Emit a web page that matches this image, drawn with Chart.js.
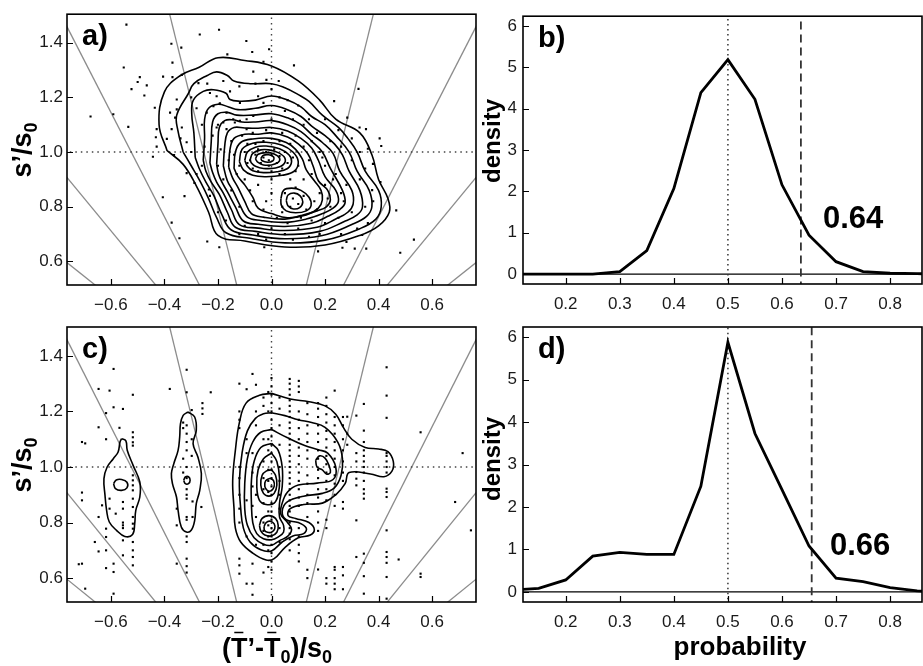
<!DOCTYPE html>
<html>
<head>
<meta charset="utf-8">
<script src="https://cdn.jsdelivr.net/npm/chart.js@4.4.1/dist/chart.umd.min.js"></script>
<style>
  html, body { margin: 0; padding: 0; background: #fff; }
  #wrap { position: relative; width: 923px; height: 666px; overflow: hidden; }
  canvas { position: absolute; }
  #cA { left: 0; top: 0; }
  #cB { left: 480px; top: 0; }
  #cC { left: 0; top: 310px; }
  #cD { left: 480px; top: 310px; }
</style>
</head>
<body>
<div id="wrap">
  <canvas id="cA" width="480" height="330"></canvas>
  <canvas id="cB" width="443" height="330"></canvas>
  <canvas id="cC" width="480" height="356"></canvas>
  <canvas id="cD" width="443" height="356"></canvas>
</div>
<script>
// ---------- axes ----------
const xTicksRatio = [-0.6, -0.4, -0.2, 0, 0.2, 0.4, 0.6];
const yTicksRatio = [0.6, 0.8, 1.0, 1.2, 1.4];
const xTicksProb = [0.2, 0.3, 0.4, 0.5, 0.6, 0.7, 0.8];
const yTicksDens = [0, 1, 2, 3, 4, 5, 6];

// slopes of the constant-probability rays (normal quantiles of 0.1 .. 0.9)
const raySlopes = [-1.282, -0.842, -0.524, -0.253, 0.253, 0.524, 0.842, 1.282];

// ---------- density curves (panels b, d) ----------
const probGrid = [0.10, 0.15, 0.20, 0.25, 0.30, 0.35, 0.40, 0.45, 0.50, 0.55, 0.60, 0.65, 0.70, 0.75, 0.80, 0.85, 0.90];
const densityB = [0, 0, 0, 0, 0.06, 0.57, 2.07, 4.39, 5.19, 4.23, 2.16, 0.94, 0.30, 0.06, 0.02, 0.01, 0];
const densityD = [0.04, 0.08, 0.28, 0.84, 0.93, 0.88, 0.88, 2.49, 5.88, 3.73, 2.41, 1.08, 0.32, 0.24, 0.10, 0.02, 0];
const cutB = 0.635;
const cutD = 0.655;

// ---------- panel a: contours ----------
const aLevel1 = [[-0.39,1.005],[-0.42,1.10],[-0.40,1.22],[-0.34,1.28],[-0.27,1.31],[-0.20,1.345],[-0.10,1.335],[0,1.315],[0.10,1.26],[0.18,1.19],[0.24,1.12],[0.33,1.07],[0.375,0.99],[0.40,0.90],[0.435,0.83],[0.44,0.78],[0.40,0.73],[0.33,0.695],[0.20,0.66],[0.05,0.653],[-0.10,0.675],[-0.20,0.695],[-0.235,0.78],[-0.28,0.875],[-0.33,0.955]];
const aLevel2 = [[-0.33,1.0],[-0.35,1.08],[-0.354,1.135],[-0.31,1.215],[-0.29,1.25],[-0.24,1.28],[-0.205,1.293],[-0.165,1.28],[-0.14,1.26],[-0.08,1.25],[0,1.25],[0.05,1.235],[0.10,1.21],[0.14,1.185],[0.19,1.135],[0.25,1.09],[0.285,1.05],[0.32,1.0],[0.35,0.93],[0.40,0.86],[0.41,0.80],[0.39,0.755],[0.33,0.72],[0.20,0.678],[0.05,0.668],[-0.08,0.685],[-0.17,0.705],[-0.205,0.76],[-0.235,0.83],[-0.265,0.89],[-0.30,0.95]];
const aLevel3 = [[-0.285,0.98],[-0.29,1.07],[-0.298,1.14],[-0.292,1.19],[-0.255,1.222],[-0.217,1.228],[-0.17,1.215],[-0.155,1.192],[-0.118,1.186],[-0.06,1.19],[0,1.205],[0.06,1.19],[0.11,1.165],[0.15,1.13],[0.20,1.10],[0.24,1.06],[0.29,1.0],[0.32,0.93],[0.365,0.86],[0.375,0.80],[0.355,0.765],[0.30,0.735],[0.19,0.695],[0.05,0.683],[-0.07,0.697],[-0.15,0.715],[-0.185,0.77],[-0.215,0.84],[-0.245,0.89],[-0.27,0.94]];
const aLevel4 = [[-0.255,0.97],[-0.25,1.05],[-0.25,1.12],[-0.235,1.16],[-0.20,1.175],[-0.16,1.165],[-0.125,1.155],[-0.06,1.16],[0,1.17],[0.06,1.155],[0.11,1.13],[0.15,1.095],[0.20,1.06],[0.235,1.03],[0.265,0.99],[0.29,0.93],[0.33,0.86],[0.34,0.80],[0.32,0.77],[0.27,0.745],[0.18,0.71],[0.05,0.698],[-0.06,0.71],[-0.135,0.725],[-0.165,0.78],[-0.195,0.845],[-0.225,0.89],[-0.245,0.93]];
const aLevel5 = [[-0.23,0.96],[-0.225,1.04],[-0.22,1.11],[-0.20,1.14],[-0.165,1.145],[-0.13,1.135],[-0.07,1.135],[0,1.14],[0.06,1.125],[0.11,1.10],[0.15,1.065],[0.19,1.035],[0.23,0.995],[0.255,0.93],[0.30,0.86],[0.305,0.81],[0.285,0.78],[0.24,0.755],[0.17,0.725],[0.05,0.713],[-0.05,0.722],[-0.12,0.735],[-0.15,0.79],[-0.18,0.85],[-0.205,0.89],[-0.22,0.925]];
const aLevel6 = [[-0.205,0.955],[-0.20,1.03],[-0.195,1.09],[-0.175,1.115],[-0.145,1.118],[-0.11,1.11],[-0.06,1.11],[0,1.115],[0.06,1.10],[0.11,1.075],[0.15,1.04],[0.19,1.0],[0.22,0.94],[0.265,0.86],[0.275,0.815],[0.255,0.79],[0.21,0.765],[0.15,0.74],[0.05,0.728],[-0.05,0.736],[-0.105,0.748],[-0.135,0.80],[-0.165,0.855],[-0.185,0.89],[-0.198,0.92]];
const aLevel7 = [[-0.18,0.95],[-0.175,1.02],[-0.165,1.07],[-0.14,1.09],[-0.10,1.088],[-0.05,1.087],[0,1.09],[0.06,1.077],[0.11,1.05],[0.15,1.015],[0.175,0.97],[0.20,0.91],[0.24,0.86],[0.25,0.82],[0.23,0.795],[0.19,0.775],[0.13,0.755],[0.05,0.743],[-0.04,0.75],[-0.09,0.762],[-0.12,0.81],[-0.145,0.86],[-0.165,0.895]];
const aLevel8 = [[-0.16,0.945],[-0.155,1.01],[-0.14,1.05],[-0.10,1.065],[-0.05,1.065],[0,1.07],[0.06,1.055],[0.10,1.03],[0.135,0.995],[0.155,0.95],[0.175,0.895],[0.21,0.86],[0.22,0.825],[0.205,0.80],[0.17,0.785],[0.11,0.768],[0.05,0.755],[-0.03,0.762],[-0.075,0.775],[-0.10,0.82],[-0.125,0.87],[-0.145,0.905]];
const aLevel9 = [[-0.14,0.94],[-0.135,1.0],[-0.115,1.035],[-0.07,1.048],[0,1.05],[0.055,1.035],[0.09,1.01],[0.115,0.975],[0.13,0.935],[0.16,0.895],[0.185,0.86],[0.19,0.825],[0.175,0.795],[0.13,0.77],[0.06,0.76],[0.0,0.775],[-0.05,0.795],[-0.07,0.835],[-0.10,0.88],[-0.125,0.91]];
const aPeak1 = [[-0.12,0.965],[-0.11,1.01],[-0.07,1.032],[-0.02,1.036],[0.04,1.025],[0.08,1.0],[0.10,0.965],[0.085,0.93],[0.04,0.915],[-0.02,0.91],[-0.07,0.915],[-0.105,0.935]];
const aPeak2 = [[-0.10,0.97],[-0.09,1.0],[-0.06,1.018],[-0.02,1.022],[0.03,1.012],[0.065,0.99],[0.075,0.965],[0.06,0.94],[0.02,0.928],[-0.03,0.925],[-0.07,0.932],[-0.09,0.948]];
const aPeak3 = [[-0.08,0.972],[-0.07,0.995],[-0.04,1.008],[-0.01,1.008],[0.025,0.998],[0.05,0.978],[0.045,0.955],[0.015,0.942],[-0.03,0.94],[-0.06,0.948],[-0.075,0.96]];
const aPeak4 = [[-0.06,0.975],[-0.05,0.992],[-0.02,0.998],[0.01,0.993],[0.03,0.978],[0.025,0.962],[0,0.953],[-0.03,0.953],[-0.05,0.962]];
const aPeak5 = [[-0.04,0.977],[-0.03,0.988],[-0.01,0.99],[0.008,0.982],[0.005,0.968],[-0.015,0.963],[-0.035,0.968]];
const aSecond1 = [[0.035,0.83],[0.045,0.86],[0.075,0.868],[0.11,0.86],[0.14,0.835],[0.148,0.805],[0.13,0.785],[0.09,0.778],[0.055,0.785],[0.037,0.805]];
const aSecond2 = [[0.055,0.823],[0.062,0.843],[0.085,0.85],[0.107,0.84],[0.117,0.818],[0.105,0.797],[0.082,0.792],[0.062,0.803]];

// ---------- panel a: draws ----------
const pointsA = [
  [-0.542,1.466],[-0.196,1.447],[-0.268,1.43],[-0.094,1.406],[-0.374,1.396],[-0.337,1.382],[-0.072,1.366],[-0.009,1.376],[-0.03,1.33],[-0.165,1.357],
  [-0.37,1.327],[-0.552,1.309],[-0.405,1.276],[-0.492,1.274],[-0.5,1.256],[-0.466,1.244],[-0.523,1.23],[-0.475,1.207],[-0.37,1.274],[-0.335,1.282],
  [-0.591,1.138],[-0.676,1.13],[-0.535,1.092],[-0.436,1.162],[-0.429,1.084],[-0.432,1.054],[-0.429,1.02],[-0.443,0.983],[-0.364,0.989],[-0.406,0.835],
  [-0.325,0.839],[-0.373,0.742],[-0.344,0.685],[-0.24,0.673],[-0.195,0.652],[-0.317,0.923],[-0.288,0.887],[-0.234,0.863],[-0.027,0.652],
  [0.084,1.317],[0.027,1.26],[0.325,1.231],[0.234,1.186],[0.283,1.126],[0.329,1.09],[0.353,1.084],[0.404,1.05],[0.41,1.022],[0.36,1.012],
  [0.466,0.787],[0.532,0.68],[0.481,0.632],[0.354,0.647],[0.311,0.647],[0.265,0.65],[0.174,0.637],[0.379,0.957],[0.407,0.89],[0.376,0.861],[0.339,0.697],[0.28,0.671],
  [-0.242,1.144],[-0.217,1.168],[-0.193,1.178],[-0.168,1.144],[-0.143,1.12],[-0.118,1.18],[-0.118,1.114],[-0.093,1.12],[-0.068,1.132],[-0.18,1.108],
  [-0.205,1.09],[-0.168,1.084],[-0.137,1.108],[-0.093,1.084],[-0.205,1.204],[-0.23,1.216],[-0.155,1.222],[-0.273,1.252],[-0.354,1.192],[-0.379,1.144],
  [-0.354,1.156],[-0.36,1.126],[-0.335,1.09],[-0.373,1.084],[-0.391,1.048],[-0.317,1.036],[-0.05,1.204],[-0.068,1.294],[-0.019,1.264],
  [-0.1,1.0],[-0.08,0.97],[-0.06,0.99],[-0.05,1.01],[-0.04,0.96],[-0.03,0.98],[-0.02,1.0],[-0.01,0.97],[0.0,0.99],[0.01,1.01],
  [0.02,0.96],[0.03,0.985],[0.05,1.0],[0.06,0.96],[-0.07,0.94],[-0.12,0.95],[-0.14,0.99],[0.08,0.98],[0.1,0.95],[-0.05,0.93],
  [0.0,0.93],[0.04,0.94],[-0.09,1.03],[-0.03,1.04],[0.03,1.04],[0.07,1.03],[-0.15,1.04],[0.12,1.02],[0.14,0.97],[-0.01,0.95],
  [0.05,0.85],[0.08,0.83],[0.1,0.81],[0.07,0.8],[0.12,0.84],[0.09,0.87],[0.04,0.8],[0.13,0.79],[0.16,0.82],[0.18,0.85],
  [0.2,0.88],[0.0,0.85],[-0.02,0.82],[-0.05,0.88],[-0.08,0.86],[0.0,0.9],[0.02,0.76],[0.06,0.74],[0.1,0.72],[0.15,0.75],
  [0.2,0.74],[0.25,0.76],[0.22,0.8],[0.27,0.82],[0.3,0.78],[0.28,0.88],[0.24,0.92],[0.2,0.95],[0.18,1.0],[0.22,1.04],
  [0.17,1.07],[0.12,1.1],[0.08,1.12],[0.05,1.15],[0.0,1.12],[-0.03,1.18],[0.1,1.17],[0.03,1.2],[-0.12,0.8],[-0.15,0.86],
  [-0.18,0.9],[-0.2,0.95],[-0.17,0.75],[-0.1,0.73],[-0.05,0.7],[0.0,0.72],[0.05,0.7],[0.14,0.69],[0.32,0.72],[0.35,0.8],
  [0.33,0.9],[0.3,0.97],[0.26,1.02],[0.3,1.05],[-0.25,1.02],[-0.22,1.06],[-0.28,0.92],[-0.23,0.84],[0.12,0.9],[0.15,0.92],
  [-0.11,1.06],[-0.07,1.07],[-0.02,1.08],[0.04,1.07],[0.09,1.06],[0.15,1.04],[0.19,0.98],[0.23,0.9],[0.26,0.85],[0.21,0.83],
  [0.17,0.79],[0.11,0.76],[0.04,0.78],[-0.03,0.79],[-0.07,0.82],[-0.1,0.9],[-0.13,0.92],[-0.16,0.97],[-0.19,1.01],[-0.2,1.1],
  [-0.26,1.1],[-0.28,1.16],[-0.3,1.2],[-0.24,1.25],[-0.18,1.26],[-0.12,1.24],[-0.06,1.25],[0.0,1.23],[0.06,1.19],[0.14,1.12],
  [0.2,1.12],[0.25,1.08],[0.33,1.0],[0.35,0.94],[0.38,0.82],[0.36,0.74],[0.26,0.7],[0.18,0.7],[0.08,0.68],[-0.02,0.68],
  [-0.12,0.7],[-0.2,0.78],[-0.26,0.95],[-0.3,1.0],[-0.34,1.05],[-0.09,0.96],[-0.06,1.03],[0.03,0.92],[0.07,0.9],[0.09,0.93]
];

// ---------- panel c: contours ----------
const cMain1 = [[0,1.265],[0.07,1.245],[0.14,1.235],[0.2,1.22],[0.24,1.19],[0.27,1.14],[0.3,1.1],[0.35,1.07],[0.4,1.065],[0.435,1.055],[0.455,1.02],[0.45,0.985],[0.42,0.965],[0.37,0.975],[0.29,0.98],[0.275,0.94],[0.24,0.9],[0.19,0.87],[0.12,0.865],[0.07,0.85],[0.062,0.825],[0.09,0.815],[0.14,0.8],[0.16,0.775],[0.145,0.755],[0.1,0.745],[0.05,0.71],[0.01,0.67],[-0.02,0.665],[-0.07,0.69],[-0.115,0.73],[-0.135,0.78],[-0.14,0.85],[-0.145,0.95],[-0.135,1.06],[-0.12,1.16],[-0.095,1.23],[-0.045,1.258]];
const cMain2 = [[0,1.195],[0.05,1.185],[0.1,1.17],[0.15,1.16],[0.2,1.143],[0.248,1.089],[0.265,1.03],[0.26,0.97],[0.235,0.925],[0.19,0.905],[0.12,0.895],[0.06,0.875],[0.04,0.84],[0.055,0.81],[0.1,0.8],[0.13,0.78],[0.12,0.76],[0.08,0.752],[0.04,0.73],[0.0,0.698],[-0.04,0.702],[-0.08,0.73],[-0.105,0.78],[-0.115,0.85],[-0.12,0.95],[-0.11,1.05],[-0.09,1.13],[-0.06,1.175],[-0.03,1.192]];
const cMain3 = [[0,1.135],[0.06,1.105],[0.124,1.077],[0.175,1.062],[0.21,1.05],[0.24,1.0],[0.23,0.955],[0.17,0.942],[0.1,0.935],[0.06,0.91],[0.04,0.87],[0.035,0.83],[0.06,0.8],[0.075,0.775],[0.06,0.75],[0.03,0.735],[0.0,0.718],[-0.03,0.722],[-0.065,0.745],[-0.09,0.79],[-0.1,0.85],[-0.1,0.94],[-0.09,1.03],[-0.07,1.09],[-0.04,1.125]];
const cMain4 = [[0,1.085],[0.025,1.06],[0.04,1.0],[0.04,0.93],[0.03,0.87],[0.03,0.82],[0.045,0.79],[0.045,0.765],[0.025,0.748],[0.0,0.738],[-0.03,0.742],[-0.055,0.76],[-0.07,0.8],[-0.075,0.87],[-0.075,0.95],[-0.065,1.02],[-0.04,1.07]];
const cUpper1 = [[0,1.05],[0.02,1.02],[0.03,0.96],[0.025,0.9],[0.01,0.87],[-0.02,0.865],[-0.045,0.88],[-0.055,0.93],[-0.05,0.99],[-0.03,1.03]];
const cUpper2 = [[0,0.99],[0.015,0.97],[0.02,0.935],[0.01,0.905],[-0.01,0.895],[-0.03,0.905],[-0.04,0.935],[-0.035,0.97],[-0.02,0.985]];
const cUpper3 = [[-0.005,0.96],[0.008,0.95],[0.01,0.93],[0,0.915],[-0.015,0.915],[-0.025,0.93],[-0.022,0.95]];
const cLower1 = [[-0.045,0.79],[-0.035,0.815],[-0.01,0.825],[0.015,0.815],[0.025,0.79],[0.02,0.765],[0,0.752],[-0.025,0.755],[-0.04,0.77]];
const cLower2 = [[-0.028,0.785],[-0.02,0.8],[-0.005,0.805],[0.01,0.795],[0.012,0.778],[0.0,0.765],[-0.015,0.765],[-0.026,0.772]];
const cRight1 = [[0.165,1.025],[0.18,1.04],[0.2,1.032],[0.215,1.005],[0.22,0.98],[0.205,0.975],[0.19,0.99],[0.17,1.0]];
const cLeft1 = [[-0.56,1.102],[-0.544,1.094],[-0.539,1.06],[-0.517,1.006],[-0.492,0.946],[-0.492,0.892],[-0.507,0.844],[-0.511,0.796],[-0.519,0.757],[-0.548,0.75],[-0.579,0.772],[-0.606,0.802],[-0.616,0.844],[-0.622,0.898],[-0.626,0.958],[-0.614,1.0],[-0.591,1.03],[-0.573,1.054],[-0.566,1.09]];
const cLeft2 = [[-0.59,0.94],[-0.58,0.953],[-0.56,0.955],[-0.54,0.945],[-0.54,0.925],[-0.56,0.916],[-0.583,0.922]];
const cMid1 = [[-0.312,1.198],[-0.287,1.18],[-0.281,1.132],[-0.293,1.084],[-0.275,1.036],[-0.262,0.976],[-0.268,0.916],[-0.281,0.868],[-0.287,0.808],[-0.3,0.772],[-0.318,0.766],[-0.337,0.784],[-0.349,0.844],[-0.355,0.892],[-0.37,0.94],[-0.374,0.976],[-0.365,1.012],[-0.349,1.06],[-0.343,1.108],[-0.34,1.156],[-0.33,1.186]];
const cMid2 = [[-0.328,0.952],[-0.322,0.964],[-0.31,0.965],[-0.304,0.952],[-0.31,0.94],[-0.322,0.94]];

// ---------- panel c: draws, grouped by column ----------
const columnsC = [
  [-0.72, [0.65]],
  [-0.708, [1.09, 0.908, 0.88, 0.652]],
  [-0.696, [1.085, 0.562]],
  [-0.66, [0.73]],
  [-0.646, [1.281, 1.143, 0.82, 0.696]],
  [-0.633, [0.862]],
  [-0.618, [1.194, 1.1, 0.778, 0.748, 0.7, 0.636]],
  [-0.605, [1.275, 0.886, 0.85]],
  [-0.59, [1.353, 1.215, 0.652, 0.622, 0.544]],
  [-0.582, [0.832]],
  [-0.568, [1.141]],
  [-0.555, [1.209, 0.874, 0.85, 0.8, 0.79, 0.78, 0.736, 0.682]],
  [-0.518, [1.26, 1.125, 1.107, 1.089, 1.077, 0.97, 0.952, 0.934, 0.916, 0.886, 0.856, 0.82, 0.796, 0.778, 0.73, 0.7, 0.676, 0.646]],
  [-0.38, [1.281]],
  [-0.354, [0.85, 0.79, 0.652]],
  [-0.33, [1.16, 1.14, 1.03, 0.98]],
  [-0.317, [1.35, 1.269, 1.15, 1.12, 1.09, 1.06, 1.0, 0.96, 0.92, 0.9, 0.886, 0.82, 0.81, 0.75, 0.73, 0.67, 0.643, 0.62]],
  [-0.298, [1.205, 1.1, 1.04]],
  [-0.295, [0.876, 0.82]],
  [-0.262, [0.856]],
  [-0.258, [1.23, 1.211, 1.191]],
  [-0.227, [1.269]],
  [-0.12, [1.3, 1.2, 1.17, 1.14, 1.0, 0.96, 0.9, 0.85, 0.8, 0.67, 0.646, 0.616]],
  [-0.093, [1.28, 1.1, 1.05, 0.88, 0.75, 0.58]],
  [-0.071, [1.335, 1.05, 0.98, 0.93, 0.86, 0.652, 0.58, 0.54]],
  [-0.058, [1.296, 1.2, 1.15, 0.9, 0.82, 0.72]],
  [-0.03, [1.25, 1.22, 1.1, 1.02, 0.96, 0.92, 0.87, 0.8, 0.77, 0.72, 0.62]],
  [-0.012, [1.27, 1.2, 1.1, 1.06, 0.99, 0.95, 0.91, 0.84, 0.79, 0.75, 0.7, 0.64]],
  [0.0, [1.32, 1.29, 1.26, 1.23, 1.2, 1.17, 1.14, 1.11, 1.08, 1.05, 1.02, 0.99, 0.96, 0.93, 0.9, 0.87, 0.84, 0.81, 0.78, 0.75, 0.72, 0.69, 0.66, 0.63]],
  [0.03, [1.25, 1.21, 1.15, 1.08, 1.0, 0.95, 0.9, 0.85, 0.78, 0.73]],
  [0.068, [1.317, 1.3, 1.28, 1.26, 1.24, 1.22, 1.2, 1.18, 1.16, 1.14, 1.12, 1.1, 1.08, 1.06, 1.04, 1.02, 1.0, 0.98, 0.96, 0.94, 0.92, 0.9, 0.88, 0.86, 0.84, 0.8, 0.78, 0.76, 0.74, 0.7]],
  [0.102, [1.31, 1.29, 1.27, 1.2, 1.17, 1.14, 1.1, 1.07, 1.04, 1.01, 0.98, 0.95, 0.92, 0.89, 0.86, 0.78, 0.75, 0.72, 0.69, 0.66]],
  [0.134, [1.23, 1.19, 1.15, 1.12, 1.09, 1.06, 1.03, 0.97, 0.94, 0.9, 0.87, 0.82, 0.63, 0.6]],
  [0.174, [1.23, 1.21, 1.18, 1.15, 1.12, 1.09, 1.06, 1.03, 0.99, 0.96, 0.92, 0.89, 0.84, 0.8, 0.77, 0.631]],
  [0.205, [1.25, 1.22, 1.19, 1.16, 1.13, 1.1, 1.07, 1.04, 1.01, 0.98, 0.95, 0.92, 0.88, 0.81, 0.78, 0.6, 0.58]],
  [0.236, [1.275, 1.18, 1.15, 1.12, 1.09, 1.06, 1.03, 1.0, 0.97, 0.94, 0.9, 0.86, 0.64, 0.63, 0.6, 0.58, 0.56]],
  [0.267, [1.18, 1.15, 1.1, 1.06, 1.02, 0.98, 0.95, 0.874, 0.85, 0.64, 0.61, 0.56]],
  [0.283, [1.181, 1.12, 1.08]],
  [0.317, [1.185, 1.05, 1.02, 0.982, 0.958, 0.934, 0.808, 0.676]],
  [0.345, [1.227, 1.131, 1.09, 1.06, 1.04, 1.02, 1.0, 0.98, 0.95, 0.92, 0.904, 0.886, 0.688, 0.655, 0.607, 0.544]],
  [0.43, [1.359, 1.257, 1.177, 1.05, 1.04, 1.02, 1.0, 0.98, 0.922, 0.91, 0.892, 0.772, 0.694, 0.676, 0.655, 0.604, 0.526]],
  [0.475, [0.667]],
  [0.557, [0.616, 0.604, 1.125]],
  [0.686, [0.874]],
  [0.714, [1.05]],
  [0.745, [0.772]]
];

const contoursA = [aLevel1, aLevel2, aLevel3, aLevel4, aLevel5, aLevel6, aLevel7, aLevel8, aLevel9,
                   aPeak1, aPeak2, aPeak3, aPeak4, aPeak5, aSecond1, aSecond2];
const contoursC = [cMain1, cMain2, cMain3, cMain4, cUpper1, cUpper2, cUpper3, cLower1, cLower2, cRight1,
                   cLeft1, cLeft2, cMid1, cMid2];
const pointsC = columnsC.flatMap(([x, ys]) => ys.map(y => [x, y]));

// ---------- helpers ----------
const FONT = '"Liberation Sans", Arial, Helvetica, sans-serif';
const toXY = pairs => pairs.map(([x, y]) => ({ x, y }));
const fmtSigned = v => (v < 0 ? '\u2212' : '') + Math.abs(v).toFixed(1);

function lineSet(data, color, width, dash, order, tension) {
  return {
    data, showLine: true, borderColor: color, borderWidth: width, borderDash: dash || [],
    pointRadius: 0, pointHoverRadius: 0, fill: false, tension: tension || 0, order
  };
}

function axis(min, max, values, fmt, size, horizontal, pad) {
  return {
    type: 'linear', min, max,
    grid: { display: false, drawTicks: false },
    border: { display: false },
    afterBuildTicks: s => { s.ticks = values.map(v => ({ value: v })); },
    afterFit: s => { if (horizontal) s.height = size; else s.width = size; },
    ticks: {
      color: '#1a1a1a', padding: pad, autoSkip: false, maxRotation: 0,
      font: { family: FONT, size: 17 }, callback: fmt
    }
  };
}

// draws text pieces in sequence; sub pieces are smaller and lowered
const MAIN = 'bold 27px ' + FONT, SUB = 'bold 18px ' + FONT;
function drawPieces(ctx, pieces, x0, base) {
  let x = x0;
  const bars = [];
  pieces.forEach(p => {
    ctx.font = p.sub ? SUB : MAIN;
    ctx.fillText(p.t, x, base + (p.sub ? 6 : 0));
    const w = ctx.measureText(p.t).width;
    if (p.bar) bars.push([x, w]);
    x += w;
  });
  return bars;
}
function piecesWidth(ctx, pieces) {
  return pieces.reduce((s, p) => {
    ctx.font = p.sub ? SUB : MAIN;
    return s + ctx.measureText(p.t).width;
  }, 0);
}

const ratioTitle = [{ t: 's\u2019/s' }, { t: '0', sub: true }];
const diffTitle = [{ t: '(' }, { t: 'T', bar: true }, { t: '\u2019-' }, { t: 'T', bar: true },
                   { t: '0', sub: true }, { t: ')/s' }, { t: '0', sub: true }];

// frame, inward ticks, panel letters, titles and notes
const decor = {
  id: 'decor',
  afterDraw(chart, args, o) {
    const { ctx, chartArea: a, scales } = chart;
    ctx.save();
    ctx.strokeStyle = '#000';
    ctx.lineWidth = 1.2;
    ctx.beginPath();
    scales.x.ticks.forEach(t => {
      const px = Math.round(scales.x.getPixelForValue(t.value)) + 0.5;
      ctx.moveTo(px, a.bottom); ctx.lineTo(px, a.bottom - 6);
    });
    scales.y.ticks.forEach(t => {
      const py = Math.round(scales.y.getPixelForValue(t.value)) + 0.5;
      ctx.moveTo(a.left, py); ctx.lineTo(a.left + 6, py);
    });
    ctx.stroke();
    ctx.lineWidth = 1.6;
    ctx.strokeRect(a.left, a.top, a.right - a.left, a.bottom - a.top);

    ctx.fillStyle = '#000';
    ctx.textBaseline = 'alphabetic';
    ctx.textAlign = 'left';
    ctx.font = 'bold 29px ' + FONT;
    ctx.fillText(o.letter, a.left + 15, a.top + 31);

    if (o.note) {
      ctx.font = 'bold 31px ' + FONT;
      ctx.fillText(o.note.text, o.note.x, o.note.y);
    }

    // vertical title
    ctx.save();
    ctx.translate(o.yTitle.x, o.yTitle.y);
    ctx.rotate(-Math.PI / 2);
    if (o.yTitle.kind === 'ratio') {
      const w = piecesWidth(ctx, ratioTitle);
      drawPieces(ctx, ratioTitle, -w / 2, 0);
    } else {
      ctx.font = 'bold 24px ' + FONT;
      ctx.textAlign = 'center';
      ctx.fillText('density', 0, 0);
    }
    ctx.restore();

    if (o.xTitle) {
      if (o.xTitle.kind === 'diff') {
        const w = piecesWidth(ctx, diffTitle);
        const bars = drawPieces(ctx, diffTitle, o.xTitle.x - w / 2, o.xTitle.y);
        ctx.lineWidth = 1.3;
        ctx.beginPath();
        bars.forEach(([bx, bw]) => {
          ctx.moveTo(bx + bw * 0.2, o.xTitle.y - 24.5);
          ctx.lineTo(bx + bw * 0.75, o.xTitle.y - 24.5);
        });
        ctx.stroke();
      } else {
        ctx.font = 'bold 26px ' + FONT;
        ctx.textAlign = 'center';
        ctx.fillText('probability', o.xTitle.x, o.xTitle.y);
      }
    }
    ctx.restore();
  }
};

function scatterPanel(id, contours, points, pad, xAxisH, deco) {
  const rays = raySlopes.map(k => lineSet([{ x: k * 0.3, y: 0.3 }, { x: k * 1.7, y: 1.7 }], '#8c8c8c', 1.3, null, 4));
  const refs = [
    lineSet([{ x: 0, y: 0.3 }, { x: 0, y: 1.7 }], '#444', 1.4, [1.5, 4], 3),
    lineSet([{ x: -1, y: 1 }, { x: 1, y: 1 }], '#444', 1.4, [1.5, 4], 3)
  ];
  const dots = {
    data: toXY(points), showLine: false, pointStyle: 'rect', pointRadius: 1.5,
    pointHoverRadius: 1.5, backgroundColor: '#000', borderWidth: 0, order: 1
  };
  const rings = contours.map(c => lineSet(toXY([...c, c[0]]), '#000', 1.6, null, 0, 0.4));
  return new Chart(document.getElementById(id), {
    type: 'scatter',
    data: { datasets: [...rings, dots, ...refs, ...rays] },
    options: {
      responsive: false, animation: false, events: [],
      layout: { padding: pad },
      plugins: { legend: { display: false }, tooltip: { enabled: false }, decor: deco },
      scales: {
        x: axis(-0.764, 0.764, xTicksRatio, fmtSigned, xAxisH, true, 10),
        y: axis(0.514, 1.504, yTicksRatio, fmtSigned, 67, false, 4)
      }
    },
    plugins: [decor]
  });
}

function densityPanel(id, dens, cut, pad, xAxisH, deco) {
  const curve = lineSet(toXY(probGrid.map((p, i) => [p, dens[i]])), '#000', 2.8, null, 0);
  const zero = lineSet([{ x: 0, y: 0 }, { x: 1, y: 0 }], '#000', 1.2, null, 3);
  const mid = lineSet([{ x: 0.5, y: -1 }, { x: 0.5, y: 7 }], '#333', 1.5, [1.5, 3.5], 2);
  const obs = lineSet([{ x: cut, y: -1 }, { x: cut, y: 7 }], '#333', 1.8, [8, 5], 2);
  return new Chart(document.getElementById(id), {
    type: 'scatter',
    data: { datasets: [curve, zero, mid, obs] },
    options: {
      responsive: false, animation: false, events: [],
      layout: { padding: pad },
      plugins: { legend: { display: false }, tooltip: { enabled: false }, decor: deco },
      scales: {
        x: axis(0.121, 0.859, xTicksProb, v => v.toFixed(1), xAxisH, true, 10),
        y: axis(-0.24, 6.24, yTicksDens, v => String(v), 43, false, 6)
      }
    },
    plugins: [decor]
  });
}

scatterPanel('cA', contoursA, pointsA, { top: 10, right: 4, left: 0, bottom: 0 }, 45,
  { letter: 'a)', yTitle: { kind: 'ratio', x: 31, y: 150 } });
densityPanel('cB', densityB, cutB, { top: 10, right: 1, left: 0, bottom: 0 }, 46,
  { letter: 'b)', yTitle: { kind: 'density', x: 20, y: 141 },
    note: { text: (Math.round(cutB * 100) / 100).toFixed(2), x: 343, y: 228 } });
scatterPanel('cC', contoursC, pointsC, { top: 17, right: 4, left: 0, bottom: 0 }, 64,
  { letter: 'c)', yTitle: { kind: 'ratio', x: 31, y: 155 }, xTitle: { kind: 'diff', x: 277, y: 347 } });
densityPanel('cD', densityD, cutD, { top: 17, right: 1, left: 0, bottom: 0 }, 64,
  { letter: 'd)', yTitle: { kind: 'density', x: 20, y: 149 },
    note: { text: (Math.round(cutD * 100) / 100).toFixed(2), x: 350, y: 245 },
    xTitle: { kind: 'prob', x: 260, y: 345 } });
</script>
</body>
</html>
